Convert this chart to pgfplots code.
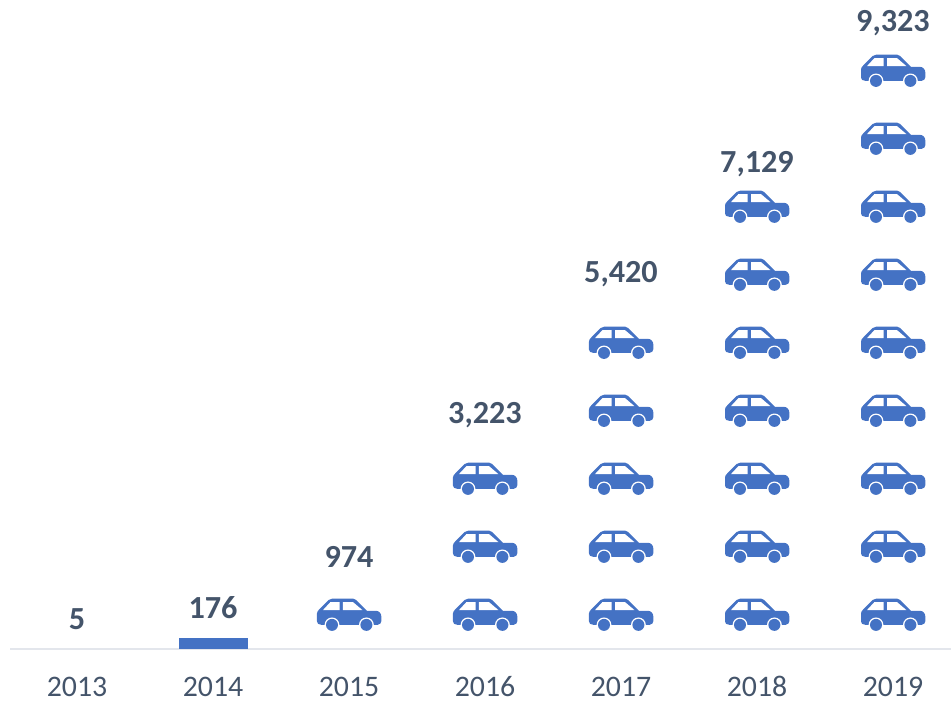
\documentclass[border=0pt]{standalone}
\usepackage{pgfplots}
\usepackage{fontspec}
\setmainfont{Carlito}
\pgfplotsset{compat=1.18}
\definecolor{carblue}{HTML}{4472C4}
\definecolor{labelc}{HTML}{44546A}
\definecolor{axisc}{HTML}{E3E6EC}
\newcommand{\Mv}[2]{\pgfpathmoveto{\pgfpoint{#1pt}{#2pt}}}
\newcommand{\Ln}[2]{\pgfpathlineto{\pgfpoint{#1pt}{#2pt}}}
\newcommand{\Cv}[6]{\pgfpathcurveto{\pgfpoint{#1pt}{#2pt}}{\pgfpoint{#3pt}{#4pt}}{\pgfpoint{#5pt}{#6pt}}}
\newcommand{\Ci}[3]{\pgfpathcircle{\pgfpoint{#1pt}{#2pt}}{#3pt}}
\pgfdeclareplotmark{car}{%
  \pgfsetfillcolor{carblue}%
  \Mv{-32.2}{-6.5}\Ln{-32.2}{1.5}\Cv{-32.2}{3.5}{-31}{4.5}{-29.5}{6}%
  \Ln{-20.5}{15}\Cv{-19.5}{16}{-18.5}{16.3}{-17}{16.3}%
  \Ln{4}{16.3}\Cv{5}{16.3}{6}{16}{7}{15}%
  \Ln{17.8}{4.2}\Ln{26.5}{4.2}\Cv{30}{4.2}{32.2}{1.5}{32.2}{-2}%
  \Ln{32.2}{-6}\Cv{32.2}{-8}{30.5}{-9.8}{28.5}{-9.8}%
  \Ln{-28}{-9.8}\Cv{-30.5}{-9.8}{-32.2}{-8.5}{-32.2}{-6.5}%
  \pgfusepath{fill}%
  \pgfsetfillcolor{white}%
  \Mv{-26.2}{4.9}\Ln{-18.8}{12.9}\Ln{-9.5}{12.9}\Ln{-9.5}{4.9}\pgfpathclose
  \Mv{-6.2}{12.9}\Ln{3.8}{12.9}\Ln{13.2}{4.9}\Ln{-6.2}{4.9}\pgfpathclose
  \Ci{-17.2}{-9.9}{7.4}\Ci{17.2}{-9.9}{7.4}%
  \pgfusepath{fill}%
  \pgfsetfillcolor{carblue}%
  \Ci{-17.2}{-9.9}{6}\Ci{17.2}{-9.9}{6}%
  \pgfusepath{fill}%
}
\begin{document}
\begin{tikzpicture}
\path[use as bounding box] (-10pt,-53pt) rectangle (941pt,649pt);
\begin{axis}[
  at={(0pt,0pt)}, anchor=south west,
  scale only axis, width=941pt, height=649pt,
  xmin=-0.4926, xmax=6.4265, ymin=0, ymax=10109,
  axis x line=bottom, axis y line=none,
  axis line style={-, color=axisc, line width=1.6pt},
  xtick={0,1,2,3,4,5,6},
  xticklabels={2013,2014,2015,2016,2017,2018,2019},
  major tick length=0pt,
  xticklabel style={font=\fontsize{29.8}{31}\selectfont, text=labelc, anchor=base, yshift=-47pt},
  clip=false,
]
\addplot[ybar, bar width=69pt, bar shift=0.7pt, fill=carblue, draw=none] coordinates {(1,176)};
\addplot[only marks, mark=car, mark options={xshift=0.2pt}] table {
x y
2 530
3 530
3 1589
3 2648
4 530
4 1589
4 2648
4 3707
4 4766
5 530
5 1589
5 2648
5 3707
5 4766
5 5826
5 6885
6 530
6 1589
6 2648
6 3707
6 4766
6 5826
6 6885
6 7944
6 9003
};
\addplot[draw=none, mark=none,
  nodes near coords={\pgfmathprintnumber[fixed, 1000 sep={,}, assume math mode=true]{\pgfplotspointmeta}},
  every node near coord/.style={font=\fontsize{32.2}{34}\selectfont\bfseries, text=labelc, anchor=base, yshift=18.8pt, inner sep=0pt},
] coordinates {(0,5) (1,176) (2,974) (3,3223) (4,5420) (5,7129) (6,9323)};
\end{axis}
\end{tikzpicture}
\end{document}
